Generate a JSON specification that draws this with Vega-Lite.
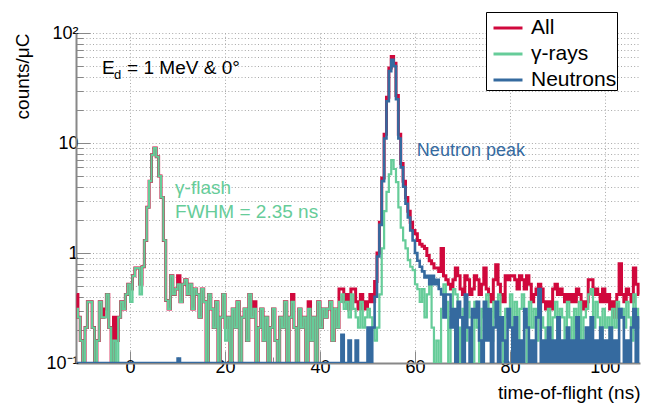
{
 "$schema": "https://vega.github.io/schema/vega-lite/v6.json",
 "width": 564,
 "height": 330,
 "autosize": {"type": "none"},
 "padding": {"left": 76, "top": 33, "right": 11, "bottom": 42},
 "config": {
  "view": {"stroke": null},
  "font": "Liberation Sans",
  "axis": {
   "domainColor": "#888888", "domainWidth": 2,
   "tickColor": "#888888", "tickWidth": 1,
   "gridColor": "#a8a8a8", "gridDash": [1, 2.3], "gridWidth": 1,
   "labelFont": "Liberation Sans", "labelFontSize": 18, "labelColor": "#000000",
   "titleFont": "Liberation Sans", "titleFontSize": 19, "titleColor": "#000000", "titleFontWeight": "normal"
  }
 },
 "datasets": {
  "h": [
   {"t":-11.25,"a":0.42,"g":0.31,"n":0.1},{"t":-10.75,"a":0.26,"g":0.26,"n":0.1},{"t":-10.25,"a":0.16,"g":0.16,"n":0.1},{"t":-9.75,"a":0.1,"g":0.1,"n":0.1},
   {"t":-9.25,"a":0.21,"g":0.21,"n":0.1},{"t":-8.75,"a":0.36,"g":0.36,"n":0.1},{"t":-8.25,"a":0.36,"g":0.36,"n":0.1},{"t":-7.75,"a":0.21,"g":0.21,"n":0.1},
   {"t":-7.25,"a":0.1,"g":0.1,"n":0.1},{"t":-6.75,"a":0.16,"g":0.16,"n":0.1},{"t":-6.25,"a":0.36,"g":0.36,"n":0.1},{"t":-5.75,"a":0.26,"g":0.26,"n":0.1},
   {"t":-5.25,"a":0.31,"g":0.26,"n":0.1},{"t":-4.75,"a":0.42,"g":0.42,"n":0.1},{"t":-4.25,"a":0.21,"g":0.21,"n":0.1},{"t":-3.75,"a":0.1,"g":0.1,"n":0.1},
   {"t":-3.25,"a":0.26,"g":0.16,"n":0.1},{"t":-2.75,"a":0.16,"g":0.1,"n":0.1},{"t":-2.25,"a":0.26,"g":0.26,"n":0.1},{"t":-1.75,"a":0.36,"g":0.36,"n":0.1},
   {"t":-1.25,"a":0.31,"g":0.31,"n":0.1},{"t":-0.75,"a":0.42,"g":0.42,"n":0.1},{"t":-0.25,"a":0.52,"g":0.52,"n":0.1},{"t":0.25,"a":0.47,"g":0.36,"n":0.1},
   {"t":0.75,"a":0.62,"g":0.62,"n":0.1},{"t":1.25,"a":0.73,"g":0.73,"n":0.1},{"t":1.75,"a":0.73,"g":0.73,"n":0.1},{"t":2.25,"a":0.52,"g":0.42,"n":0.1},
   {"t":2.75,"a":0.75,"g":0.75,"n":0.1},{"t":3.25,"a":1.3,"g":1.3,"n":0.1},{"t":3.75,"a":2.6,"g":2.6,"n":0.1},{"t":4.25,"a":4.5,"g":4.5,"n":0.1},
   {"t":4.75,"a":7.8,"g":7.8,"n":0.1},{"t":5.25,"a":9.0,"g":9.0,"n":0.1},{"t":5.75,"a":7.5,"g":7.5,"n":0.1},{"t":6.25,"a":5.0,"g":5.0,"n":0.1},
   {"t":6.75,"a":3.2,"g":3.2,"n":0.1},{"t":7.25,"a":1.3,"g":1.3,"n":0.1},{"t":7.75,"a":0.37,"g":0.37,"n":0.1},{"t":8.25,"a":0.31,"g":0.31,"n":0.1},
   {"t":8.75,"a":0.62,"g":0.62,"n":0.1},{"t":9.25,"a":0.42,"g":0.42,"n":0.1},{"t":9.75,"a":0.47,"g":0.47,"n":0.1},{"t":10.25,"a":0.62,"g":0.52,"n":0.11},
   {"t":10.75,"a":0.36,"g":0.36,"n":0.1},{"t":11.25,"a":0.52,"g":0.52,"n":0.1},{"t":11.75,"a":0.57,"g":0.57,"n":0.1},{"t":12.25,"a":0.42,"g":0.42,"n":0.1},
   {"t":12.75,"a":0.52,"g":0.52,"n":0.1},{"t":13.25,"a":0.31,"g":0.31,"n":0.1},{"t":13.75,"a":0.47,"g":0.47,"n":0.1},{"t":14.25,"a":0.42,"g":0.42,"n":0.1},
   {"t":14.75,"a":0.26,"g":0.26,"n":0.1},{"t":15.25,"a":0.47,"g":0.47,"n":0.1},{"t":15.75,"a":0.36,"g":0.36,"n":0.1},{"t":16.25,"a":0.1,"g":0.1,"n":0.1},
   {"t":16.75,"a":0.42,"g":0.42,"n":0.1},{"t":17.25,"a":0.31,"g":0.31,"n":0.1},{"t":17.75,"a":0.21,"g":0.21,"n":0.1},{"t":18.25,"a":0.36,"g":0.36,"n":0.1},
   {"t":18.75,"a":0.1,"g":0.1,"n":0.1},{"t":19.25,"a":0.26,"g":0.26,"n":0.1},{"t":19.75,"a":0.42,"g":0.42,"n":0.1},{"t":20.25,"a":0.21,"g":0.16,"n":0.1},
   {"t":20.75,"a":0.26,"g":0.26,"n":0.1},{"t":21.25,"a":0.1,"g":0.1,"n":0.1},{"t":21.75,"a":0.31,"g":0.31,"n":0.1},{"t":22.25,"a":0.21,"g":0.21,"n":0.1},
   {"t":22.75,"a":0.36,"g":0.36,"n":0.1},{"t":23.25,"a":0.1,"g":0.1,"n":0.1},{"t":23.75,"a":0.26,"g":0.26,"n":0.1},{"t":24.25,"a":0.31,"g":0.31,"n":0.1},
   {"t":24.75,"a":0.16,"g":0.16,"n":0.1},{"t":25.25,"a":0.42,"g":0.42,"n":0.1},{"t":25.75,"a":0.26,"g":0.26,"n":0.1},{"t":26.25,"a":0.36,"g":0.31,"n":0.1},
   {"t":26.75,"a":0.1,"g":0.1,"n":0.1},{"t":27.25,"a":0.21,"g":0.21,"n":0.1},{"t":27.75,"a":0.31,"g":0.31,"n":0.1},{"t":28.25,"a":0.16,"g":0.16,"n":0.1},
   {"t":28.75,"a":0.26,"g":0.26,"n":0.1},{"t":29.25,"a":0.1,"g":0.1,"n":0.1},{"t":29.75,"a":0.21,"g":0.21,"n":0.1},{"t":30.25,"a":0.31,"g":0.31,"n":0.1},
   {"t":30.75,"a":0.16,"g":0.16,"n":0.1},{"t":31.25,"a":0.1,"g":0.1,"n":0.1},{"t":31.75,"a":0.26,"g":0.26,"n":0.1},{"t":32.25,"a":0.21,"g":0.21,"n":0.1},
   {"t":32.75,"a":0.36,"g":0.36,"n":0.1},{"t":33.25,"a":0.1,"g":0.1,"n":0.1},{"t":33.75,"a":0.26,"g":0.26,"n":0.1},{"t":34.25,"a":0.42,"g":0.36,"n":0.1},
   {"t":34.75,"a":0.21,"g":0.21,"n":0.1},{"t":35.25,"a":0.1,"g":0.1,"n":0.1},{"t":35.75,"a":0.31,"g":0.31,"n":0.1},{"t":36.25,"a":0.21,"g":0.21,"n":0.1},
   {"t":36.75,"a":0.26,"g":0.26,"n":0.1},{"t":37.25,"a":0.1,"g":0.1,"n":0.1},{"t":37.75,"a":0.36,"g":0.31,"n":0.1},{"t":38.25,"a":0.16,"g":0.16,"n":0.1},
   {"t":38.75,"a":0.26,"g":0.26,"n":0.1},{"t":39.25,"a":0.1,"g":0.1,"n":0.1},{"t":39.75,"a":0.36,"g":0.36,"n":0.1},{"t":40.25,"a":0.21,"g":0.21,"n":0.1},
   {"t":40.75,"a":0.31,"g":0.31,"n":0.1},{"t":41.25,"a":0.26,"g":0.26,"n":0.1},{"t":41.75,"a":0.31,"g":0.31,"n":0.1},{"t":42.25,"a":0.36,"g":0.36,"n":0.1},
   {"t":42.75,"a":0.16,"g":0.16,"n":0.1},{"t":43.25,"a":0.31,"g":0.31,"n":0.1},{"t":43.75,"a":0.21,"g":0.21,"n":0.1},{"t":44.25,"a":0.47,"g":0.36,"n":0.1},
   {"t":44.75,"a":0.47,"g":0.42,"n":0.18},{"t":45.25,"a":0.36,"g":0.31,"n":0.1},{"t":45.75,"a":0.42,"g":0.36,"n":0.1},{"t":46.25,"a":0.31,"g":0.26,"n":0.16},
   {"t":46.75,"a":0.47,"g":0.42,"n":0.1},{"t":47.25,"a":0.47,"g":0.31,"n":0.1},{"t":47.75,"a":0.36,"g":0.26,"n":0.16},{"t":48.25,"a":0.31,"g":0.21,"n":0.1},
   {"t":48.75,"a":0.42,"g":0.36,"n":0.1},{"t":49.25,"a":0.36,"g":0.21,"n":0.1},{"t":49.75,"a":0.31,"g":0.26,"n":0.1},{"t":50.25,"a":0.36,"g":0.31,"n":0.21},
   {"t":50.75,"a":0.42,"g":0.26,"n":0.1},{"t":51.25,"a":0.36,"g":0.21,"n":0.21},{"t":51.75,"a":0.55,"g":0.16,"n":0.4},{"t":52.25,"a":1.0,"g":0.21,"n":0.93},
   {"t":52.75,"a":1.9,"g":0.42,"n":1.8},{"t":53.25,"a":4.8,"g":1.1,"n":4.5},{"t":53.75,"a":12,"g":2.4,"n":11},{"t":54.25,"a":26,"g":3.6,"n":24},
   {"t":54.75,"a":48,"g":5.2,"n":45},{"t":55.25,"a":61,"g":7.0,"n":57},{"t":55.75,"a":53,"g":5.8,"n":50},{"t":56.25,"a":27,"g":4.4,"n":25},
   {"t":56.75,"a":12,"g":2.6,"n":11},{"t":57.25,"a":6.5,"g":1.7,"n":6.0},{"t":57.75,"a":4.5,"g":1.3,"n":4.0},{"t":58.25,"a":3.2,"g":1.1,"n":2.8},
   {"t":58.75,"a":2.4,"g":0.86,"n":2.1},{"t":59.25,"a":1.9,"g":0.75,"n":1.6},{"t":59.75,"a":1.6,"g":0.7,"n":1.3},{"t":60.25,"a":1.5,"g":0.52,"n":1.0},
   {"t":60.75,"a":1.3,"g":0.47,"n":0.85},{"t":61.25,"a":1.2,"g":0.36,"n":0.75},{"t":61.75,"a":1.15,"g":0.47,"n":0.68},{"t":62.25,"a":1.1,"g":0.26,"n":0.6},
   {"t":62.75,"a":0.95,"g":0.42,"n":0.62},{"t":63.25,"a":0.85,"g":0.57,"n":0.52},{"t":63.75,"a":0.8,"g":0.21,"n":0.62},{"t":64.25,"a":0.73,"g":0.1,"n":0.52},
   {"t":64.75,"a":0.73,"g":0.16,"n":0.57},{"t":65.25,"a":0.68,"g":0.1,"n":0.47},{"t":65.75,"a":1.1,"g":0.31,"n":0.42},{"t":66.25,"a":0.62,"g":0.52,"n":0.26},
   {"t":66.75,"a":0.57,"g":0.36,"n":0.42},{"t":67.25,"a":0.52,"g":0.1,"n":0.42},{"t":67.75,"a":0.47,"g":0.26,"n":0.21},{"t":68.25,"a":0.57,"g":0.47,"n":0.31},
   {"t":68.75,"a":0.73,"g":0.42,"n":0.1},{"t":69.25,"a":0.62,"g":0.21,"n":0.36},{"t":69.75,"a":0.47,"g":0.1,"n":0.26},{"t":70.25,"a":0.42,"g":0.31,"n":0.1},
   {"t":70.75,"a":0.62,"g":0.16,"n":0.42},{"t":71.25,"a":0.57,"g":0.36,"n":0.21},{"t":71.75,"a":0.42,"g":0.26,"n":0.1},{"t":72.25,"a":0.47,"g":0.1,"n":0.31},
   {"t":72.75,"a":0.62,"g":0.36,"n":0.26},{"t":73.25,"a":0.57,"g":0.21,"n":0.36},{"t":73.75,"a":0.42,"g":0.1,"n":0.16},{"t":74.25,"a":0.52,"g":0.31,"n":0.1},
   {"t":74.75,"a":0.73,"g":0.26,"n":0.36},{"t":75.25,"a":0.47,"g":0.42,"n":0.16},{"t":75.75,"a":0.42,"g":0.21,"n":0.31},{"t":76.25,"a":0.36,"g":0.16,"n":0.1},
   {"t":76.75,"a":0.57,"g":0.36,"n":0.21},{"t":77.25,"a":0.78,"g":0.26,"n":0.36},{"t":77.75,"a":0.52,"g":0.42,"n":0.1},{"t":78.25,"a":0.42,"g":0.21,"n":0.26},
   {"t":78.75,"a":0.36,"g":0.1,"n":0.16},{"t":79.25,"a":0.62,"g":0.31,"n":0.1},{"t":79.75,"a":0.57,"g":0.26,"n":0.31},{"t":80.25,"a":0.62,"g":0.42,"n":0.21},
   {"t":80.75,"a":0.62,"g":0.21,"n":0.1},{"t":81.25,"a":0.57,"g":0.36,"n":0.26},{"t":81.75,"a":0.47,"g":0.16,"n":0.1},{"t":82.25,"a":0.62,"g":0.31,"n":0.16},
   {"t":82.75,"a":0.57,"g":0.42,"n":0.1},{"t":83.25,"a":0.47,"g":0.26,"n":0.31},{"t":83.75,"a":0.62,"g":0.1,"n":0.21},{"t":84.25,"a":0.52,"g":0.36,"n":0.1},
   {"t":84.75,"a":0.36,"g":0.21,"n":0.16},{"t":85.25,"a":0.42,"g":0.31,"n":0.1},{"t":85.75,"a":0.47,"g":0.16,"n":0.26},{"t":86.25,"a":0.52,"g":0.36,"n":0.47},
   {"t":86.75,"a":0.47,"g":0.26,"n":0.1},{"t":87.25,"a":0.36,"g":0.21,"n":0.16},{"t":87.75,"a":0.31,"g":0.1,"n":0.1},{"t":88.25,"a":0.36,"g":0.31,"n":0.21},
   {"t":88.75,"a":0.31,"g":0.16,"n":0.1},{"t":89.25,"a":0.47,"g":0.26,"n":0.16},{"t":89.75,"a":0.52,"g":0.36,"n":0.1},{"t":90.25,"a":0.42,"g":0.21,"n":0.26},
   {"t":90.75,"a":0.47,"g":0.31,"n":0.1},{"t":91.25,"a":0.42,"g":0.26,"n":0.16},{"t":91.75,"a":0.36,"g":0.16,"n":0.1},{"t":92.25,"a":0.42,"g":0.36,"n":0.21},
   {"t":92.75,"a":0.36,"g":0.26,"n":0.1},{"t":93.25,"a":0.42,"g":0.1,"n":0.16},{"t":93.75,"a":0.36,"g":0.31,"n":0.1},{"t":94.25,"a":0.47,"g":0.21,"n":0.26},
   {"t":94.75,"a":0.42,"g":0.36,"n":0.1},{"t":95.25,"a":0.36,"g":0.16,"n":0.16},{"t":95.75,"a":0.31,"g":0.26,"n":0.1},{"t":96.25,"a":0.36,"g":0.31,"n":0.21},
   {"t":96.75,"a":0.57,"g":0.42,"n":0.1},{"t":97.25,"a":0.57,"g":0.47,"n":0.26},{"t":97.75,"a":0.42,"g":0.21,"n":0.1},{"t":98.25,"a":0.47,"g":0.36,"n":0.16},
   {"t":98.75,"a":0.42,"g":0.26,"n":0.1},{"t":99.25,"a":0.36,"g":0.1,"n":0.21},{"t":99.75,"a":0.47,"g":0.31,"n":0.1},{"t":100.25,"a":0.36,"g":0.21,"n":0.16},
   {"t":100.75,"a":0.42,"g":0.26,"n":0.1},{"t":101.25,"a":0.31,"g":0.16,"n":0.21},{"t":101.75,"a":0.36,"g":0.31,"n":0.1},{"t":102.25,"a":0.26,"g":0.21,"n":0.16},
   {"t":102.75,"a":0.42,"g":0.36,"n":0.1},{"t":103.25,"a":0.8,"g":0.26,"n":0.31},{"t":103.75,"a":0.42,"g":0.31,"n":0.26},{"t":104.25,"a":0.36,"g":0.21,"n":0.1},
   {"t":104.75,"a":0.47,"g":0.36,"n":0.16},{"t":105.25,"a":0.42,"g":0.26,"n":0.1},{"t":105.75,"a":0.36,"g":0.16,"n":0.21},{"t":106.25,"a":0.73,"g":0.42,"n":0.31},
   {"t":106.75,"a":0.52,"g":0.31,"n":0.1},{"t":107.25,"a":0.42,"g":0.21,"n":0.26}
  ]
 },
 "layer": [
  {
   "data": {"name": "h"},
   "mark": {"type": "line", "interpolate": "step", "clip": true, "strokeWidth": 3},
   "encoding": {
    "x": {
     "field": "t", "type": "quantitative",
     "scale": {"domain": [-11.4, 107.4], "nice": false, "zero": false},
     "axis": {
      "title": "time-of-flight (ns)",
      "values": [-10, -5, 0, 5, 10, 15, 20, 25, 30, 35, 40, 45, 50, 55, 60, 65, 70, 75, 80, 85, 90, 95, 100, 105],
      "labelExpr": "datum.value % 20 == 0 ? datum.label : ''",
      "gridOpacity": {"condition": {"test": "datum.value % 20 == 0", "value": 1}, "value": 0},
      "tickSize": {"condition": {"test": "datum.value % 20 == 0", "value": -12}, "value": -6},
      "labelPadding": 7,
      "labelFlush": false,
      "titleAnchor": "end", "titleAlign": "right", "titleBaseline": "middle",
      "titleX": 564, "titleY": 29
     }
    },
    "y": {
     "field": "a", "type": "quantitative",
     "scale": {"type": "log", "domain": [0.1, 100], "nice": false},
     "axis": {
      "title": "counts/μC",
      "values": [0.1, 0.2, 0.3, 0.4, 0.5, 0.6, 0.7, 0.8, 0.9, 1, 2, 3, 4, 5, 6, 7, 8, 9, 10, 20, 30, 40, 50, 60, 70, 80, 90, 100],
      "labelExpr": "datum.value == 100 ? '10²' : datum.value == 10 ? '10' : datum.value == 1 ? '1' : datum.value == 0.1 ? '10⁻¹' : ''",
      "tickSize": {"condition": {"test": "datum.value == 100 || datum.value == 10 || datum.value == 1 || datum.value == 0.1", "value": -14}, "value": -7},
      "labelPadding": 12,
      "labelFlush": false,
      "titleAnchor": "end", "titleAngle": -90, "titleAlign": "right", "titleBaseline": "middle",
      "titleX": -54, "titleY": 0
     }
    },
    "color": {
     "datum": "All",
     "scale": {"domain": ["All", "γ-rays", "Neutrons"], "range": ["#d0083c", "#66cc99", "#356a9f"]},
     "legend": {
      "title": null,
      "orient": "none", "legendX": 410, "legendY": -21,
      "fillColor": "#ffffff", "strokeColor": "#000000",
      "padding": 0, "symbolOffset": 6, "symbolType": "stroke", "symbolSize": 841, "symbolStrokeWidth": 3,
      "labelFont": "Liberation Sans", "labelFontSize": 21, "labelColor": "#000000", "labelOffset": 7,
      "rowPadding": 0, "labelLimit": 300
     }
    }
   }
  },
  {
   "data": {"name": "h"},
   "mark": {"type": "line", "interpolate": "step", "clip": true, "strokeWidth": 2.2},
   "encoding": {
    "x": {"field": "t", "type": "quantitative"},
    "y": {"field": "g", "type": "quantitative"},
    "color": {"datum": "γ-rays"}
   }
  },
  {
   "data": {"name": "h"},
   "mark": {"type": "line", "interpolate": "step", "clip": true, "strokeWidth": 2.6},
   "encoding": {
    "x": {"field": "t", "type": "quantitative"},
    "y": {"field": "n", "type": "quantitative"},
    "color": {"datum": "Neutrons"}
   }
  },
  {
   "data": {"values": [{"t": 9.47, "v": 3.9, "label": "γ-flash"}, {"t": 9.47, "v": 2.36, "label": "FWHM = 2.35 ns"}]},
   "mark": {"type": "text", "align": "left", "baseline": "middle", "font": "Liberation Sans", "fontSize": 19, "color": "#66cc99"},
   "encoding": {
    "x": {"field": "t", "type": "quantitative"},
    "y": {"field": "v", "type": "quantitative"},
    "text": {"field": "label"}
   }
  },
  {
   "data": {"values": [{"t": 60.4, "v": 8.46, "label": "Neutron peak"}]},
   "mark": {"type": "text", "align": "left", "baseline": "middle", "font": "Liberation Sans", "fontSize": 18, "color": "#356a9f"},
   "encoding": {
    "x": {"field": "t", "type": "quantitative"},
    "y": {"field": "v", "type": "quantitative"},
    "text": {"field": "label"}
   }
  },
  {
   "data": {"values": [{"t": -5.9, "v": 48, "label": "E"}]},
   "mark": {"type": "text", "align": "left", "baseline": "middle", "font": "Liberation Sans", "fontSize": 19, "color": "#000000"},
   "encoding": {
    "x": {"field": "t", "type": "quantitative"},
    "y": {"field": "v", "type": "quantitative"},
    "text": {"field": "label"}
   }
  },
  {
   "data": {"values": [{"t": -5.9, "v": 48, "label": "d"}]},
   "mark": {"type": "text", "align": "left", "baseline": "middle", "font": "Liberation Sans", "fontSize": 13, "color": "#000000", "dx": 12, "dy": 7},
   "encoding": {
    "x": {"field": "t", "type": "quantitative"},
    "y": {"field": "v", "type": "quantitative"},
    "text": {"field": "label"}
   }
  },
  {
   "data": {"values": [{"t": -5.9, "v": 48, "label": "= 1 MeV & 0°"}]},
   "mark": {"type": "text", "align": "left", "baseline": "middle", "font": "Liberation Sans", "fontSize": 19, "color": "#000000", "dx": 25},
   "encoding": {
    "x": {"field": "t", "type": "quantitative"},
    "y": {"field": "v", "type": "quantitative"},
    "text": {"field": "label"}
   }
  }
 ]
}
